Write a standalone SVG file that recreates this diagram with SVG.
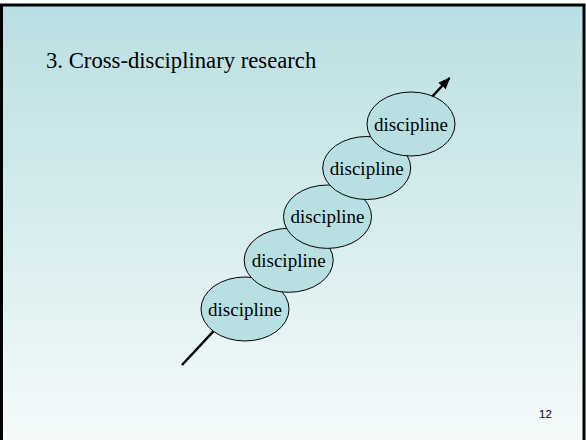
<svg xmlns="http://www.w3.org/2000/svg" width="586" height="440" viewBox="0 0 586 440">
  <defs>
    <linearGradient id="slideBg" x1="0" y1="0" x2="0" y2="1">
      <stop offset="0" stop-color="#b9dfe2"/>
      <stop offset="1" stop-color="#f6fbfb"/>
    </linearGradient>
    <marker id="arrowHead" viewBox="0 0 12 10" refX="11" refY="5" markerWidth="12" markerHeight="10" markerUnits="userSpaceOnUse" orient="auto">
      <path d="M0,0 L12,5 L0,10 Z" fill="#000"/>
    </marker>
    <style>
      .disc ellipse { fill: #b8e0e3; stroke: #000; stroke-width: 1; }
      .disc text { font-family: "Liberation Serif", "Times New Roman", serif; font-size: 19px; fill: #000; text-anchor: middle; }
      .title { font-family: "Liberation Serif", "Times New Roman", serif; font-size: 22.7px; fill: #000; }
      .pagenum { font-family: "Liberation Sans", Arial, sans-serif; font-size: 11.5px; fill: #000; }
    </style>
  </defs>

  <!-- slide background and frame -->
  <rect x="0" y="0" width="586" height="440" fill="#ffffff"/>
  <rect x="1.5" y="5" width="582.5" height="440" fill="url(#slideBg)" stroke="#000" stroke-width="3"/>

  <text class="title" x="46" y="68">3. Cross-disciplinary research</text>

  <!-- axis through the chain of disciplines -->
  <g id="connectors">
    <line x1="182" y1="365" x2="449.5" y2="78" stroke="#000" stroke-width="2.5" marker-end="url(#arrowHead)"/>
  </g>

  <g id="discipline5" class="disc">
    <ellipse cx="245" cy="309" rx="44" ry="32"/>
    <text x="245" y="315.5">discipline</text>
  </g>
  <g id="discipline4" class="disc">
    <ellipse cx="288.7" cy="260.3" rx="44.5" ry="32"/>
    <text x="288.7" y="267">discipline</text>
  </g>
  <g id="discipline3" class="disc">
    <ellipse cx="327.5" cy="216.7" rx="44" ry="31.7"/>
    <text x="327.5" y="223.3">discipline</text>
  </g>
  <g id="discipline2" class="disc">
    <ellipse cx="366.7" cy="168" rx="44" ry="31.5"/>
    <text x="366.7" y="174.7">discipline</text>
  </g>
  <g id="discipline1" class="disc">
    <ellipse cx="411" cy="124" rx="44" ry="32"/>
    <text x="411" y="130.7">discipline</text>
  </g>

  <text class="pagenum" x="539" y="418">12</text>
</svg>
